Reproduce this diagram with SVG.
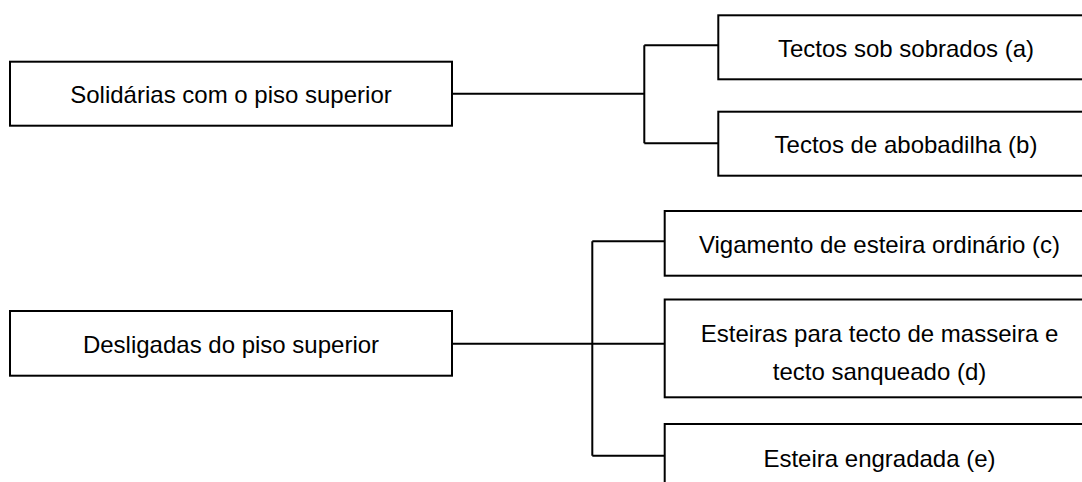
<svg xmlns="http://www.w3.org/2000/svg" width="1082" height="482" viewBox="0 0 1082 482">
<style>
.box{fill:#fff;stroke:#000;stroke-width:2}
.ln{fill:none;stroke:#000;stroke-width:2}
text{font-family:"Liberation Sans",Arial,sans-serif;font-size:24px;fill:#000;text-anchor:middle}
</style>
<rect x="0" y="0" width="1082" height="482" fill="#fff"/>
<g id="connectors">
<path class="ln" d="M452 93.7H644.3M644.3 45.3V143.3M644.3 45.3H718.3M644.3 143.3H718.3"/>
<path class="ln" d="M452 343.7H664.7M592.3 241.3V455.7M592.3 241.3H664.7M592.3 455.7H664.7"/>
</g>
<g id="n-solidarias"><rect class="box" x="10" y="61.7" width="442" height="64"/><text x="231" y="103">Solidárias com o piso superior</text></g>
<g id="n-a"><rect class="box" x="718.3" y="15.3" width="376" height="64"/><text x="906" y="56.5">Tectos sob sobrados (a)</text></g>
<g id="n-b"><rect class="box" x="718.3" y="111.7" width="376" height="64"/><text x="906" y="153">Tectos de abobadilha (b)</text></g>
<g id="n-desligadas"><rect class="box" x="10" y="311" width="442" height="64.7"/><text x="231" y="353">Desligadas do piso superior</text></g>
<g id="n-c"><rect class="box" x="664.7" y="211" width="430" height="64.7"/><text x="879.5" y="253">Vigamento de esteira ordinário (c)</text></g>
<g id="n-d"><rect class="box" x="664.7" y="299.5" width="430" height="97.8"/><text x="879.5" y="341.7">Esteiras para tecto de masseira e</text><text x="879.5" y="380">tecto sanqueado (d)</text></g>
<g id="n-e"><rect class="box" x="664.7" y="424" width="430" height="70"/><text x="879.5" y="466.5">Esteira engradada (e)</text></g>
</svg>
